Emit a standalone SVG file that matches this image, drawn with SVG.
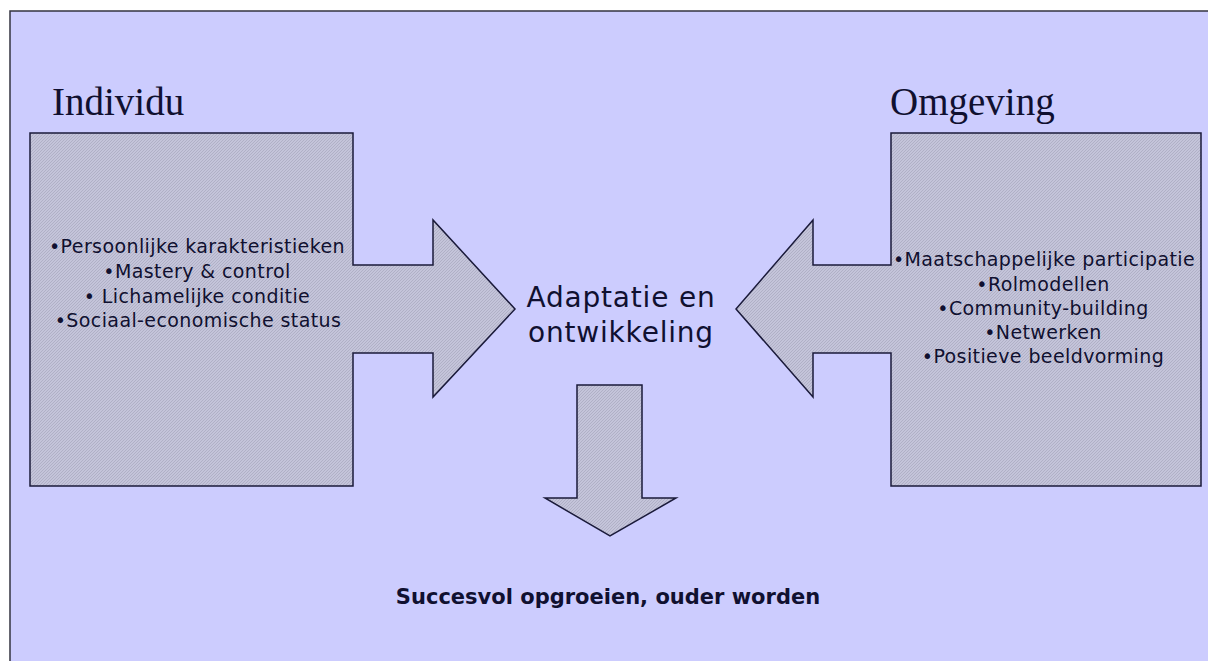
<svg xmlns="http://www.w3.org/2000/svg" width="1208" height="661" viewBox="0 0 1208 661">
<style>
.title{font-family:"Liberation Serif","Times New Roman",serif;font-size:39px;fill:#101030}
.item{font-family:"DejaVu Sans",Verdana,sans-serif;font-size:19px;letter-spacing:0.4px;fill:#101030;text-anchor:middle}
.center{font-family:"DejaVu Sans",Verdana,sans-serif;font-size:28px;letter-spacing:0.8px;fill:#101030;text-anchor:middle}
.result{font-family:"DejaVu Sans",Verdana,sans-serif;font-size:21px;font-weight:bold;fill:#101030;text-anchor:middle}
.shape{fill:url(#hatch);stroke:#1a1a3a;stroke-width:1.5;stroke-linejoin:miter}
</style>
<defs>
<pattern id="hatch" width="3" height="3" patternUnits="userSpaceOnUse">
<rect width="3" height="3" fill="#c4c4da"/>
<path d="M0,3 L3,0" stroke="#b0b0c6" stroke-width="1"/>
</pattern>
</defs>
<rect width="1208" height="661" fill="#ffffff"/>
<rect x="10" y="11" width="1210" height="670" fill="#ccccfe" stroke="#333340" stroke-width="1.5"/>
<g id="individu">
<text class="title" x="52" y="115">Individu</text>
<polygon class="shape" points="30,133 353,133 353,265 433,265 433,220 515,309 433,397 433,353 353,353 353,486 30,486"/>
<text class="item" x="197" y="253">•Persoonlijke karakteristieken</text>
<text class="item" x="197" y="278">•Mastery &amp; control</text>
<text class="item" x="197" y="303">• Lichamelijke conditie</text>
<text class="item" x="198" y="327">•Sociaal-economische status</text>
</g>
<g id="omgeving">
<text class="title" x="890" y="115">Omgeving</text>
<polygon class="shape" points="1201,133 891,133 891,265 813,265 813,220 736,309 813,397 813,353 891,353 891,486 1201,486"/>
<text class="item" x="1044" y="266">•Maatschappelijke participatie</text>
<text class="item" x="1043" y="291">•Rolmodellen</text>
<text class="item" x="1043" y="315">•Community-building</text>
<text class="item" x="1043" y="339">•Netwerken</text>
<text class="item" x="1043" y="363">•Positieve beeldvorming</text>
</g>
<g id="adaptatie">
<text class="center" x="621" y="307">Adaptatie en</text>
<text class="center" x="621" y="342">ontwikkeling</text>
</g>
<g id="connectors">
<polygon class="shape" points="577,385 642,385 642,498 676,498 610,536 545,498 577,498"/>
</g>
<g id="succes">
<text class="result" x="608" y="604">Succesvol opgroeien, ouder worden</text>
</g>
</svg>
